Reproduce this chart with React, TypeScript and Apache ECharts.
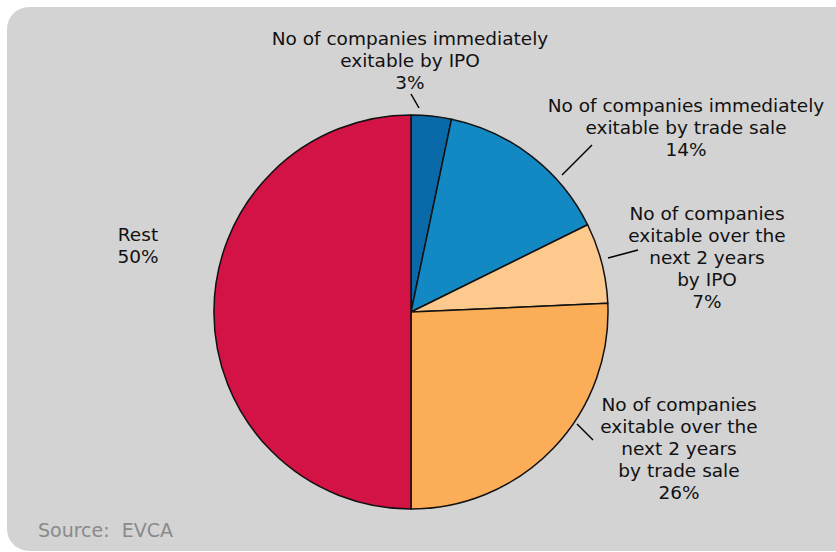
import React, { useEffect, useRef } from "react";
import * as echarts from "echarts";

const categories = [
  "No of companies immediately\nexitable by IPO",
  "No of companies immediately\nexitable by trade sale",
  "No of companies\nexitable over the\nnext 2 years\nby IPO",
  "No of companies\nexitable over the\nnext 2 years\nby trade sale",
  "Rest",
];
const values = [3.3, 14.4, 6.6, 25.7, 50.0];
const colors = ["#0a69a8", "#1389c3", "#fec98c", "#fbae57", "#d31245"];

// label block centres and leader lines (layout only)
const labelPos: [number, number][] = [
  [410, 60],
  [686, 127],
  [707, 257],
  [679, 448],
  [138, 245],
];
const leaderLines: ([number, number][] | null)[] = [
  [[419, 108], [415, 101], [411, 94]],
  [[562, 175], [577, 160], [592, 145]],
  [[608, 258], [623, 254], [638, 250]],
  [[577, 424], [585, 432], [593, 440]],
  null,
];

export default function App() {
  const ref = useRef<HTMLDivElement>(null);
  useEffect(() => {
    if (!ref.current) return;
    const chart = echarts.init(ref.current, null, { renderer: "svg" });
    chart.setOption({
      animation: false,
      backgroundColor: "#ffffff",
      graphic: [
        {
          type: "rect",
          shape: { x: 7, y: 7, width: 850, height: 544, r: 22 },
          style: { fill: "#d3d3d3" },
          z: -10,
        },
        {
          type: "text",
          left: 38,
          top: 520,
          style: {
            text: "Source:  EVCA",
            fill: "#8a8a8a",
            font: '19px "DejaVu Sans"',
          },
        },
      ],
      series: [
        {
          type: "pie",
          center: [411, 312],
          radius: 197,
          startAngle: 90,
          clockwise: true,
          percentPrecision: 1,
          itemStyle: { borderColor: "#111", borderWidth: 1.5 },
          label: {
            show: true,
            position: "outside",
            fontFamily: "DejaVu Sans",
            fontSize: 18.5,
            lineHeight: 22,
            color: "#111",
            align: "center",
            overflow: "none",
            width: 400,
            formatter: (p: any) => `${p.name}\n${Math.round(p.percent)}%`,
          },
          labelLine: { show: true, lineStyle: { color: "#000", width: 1.5 } },
          labelLayout: (p: any) => {
            const i = p.dataIndex;
            const out: any = {
              x: labelPos[i][0],
              y: labelPos[i][1],
              align: "center",
              verticalAlign: "middle",
              width: 400,
            };
            if (leaderLines[i]) out.labelLinePoints = leaderLines[i];
            return out;
          },
          data: values.map((v, i) => ({
            name: categories[i],
            value: v,
            itemStyle: { color: colors[i] },
            labelLine: { show: leaderLines[i] !== null },
          })),
        },
      ],
    });
    return () => chart.dispose();
  }, []);
  return (
    <div
      ref={ref}
      style={{ position: "fixed", left: 0, top: 0, width: 836, height: 552 }}
    />
  );
}
